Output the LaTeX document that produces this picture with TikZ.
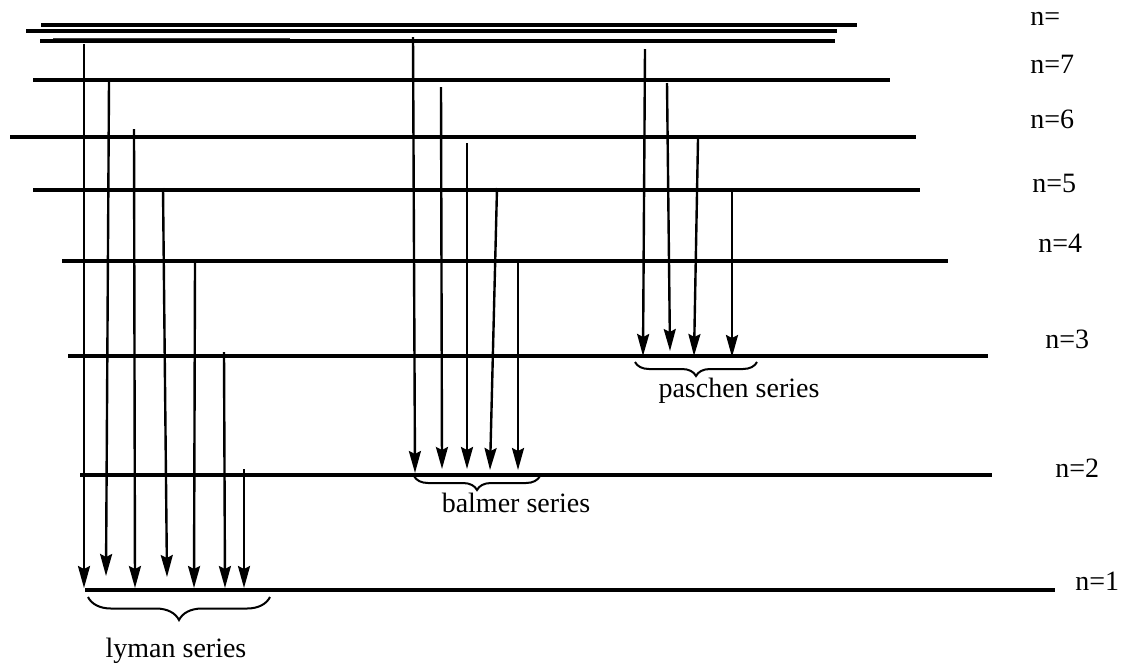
\documentclass[tikz,border=0pt]{standalone}
\usepackage{fontspec}
\setmainfont{Liberation Serif}
\usetikzlibrary{arrows.meta,decorations.pathreplacing}
\tikzset{
  level/.style={line width=1.6pt},
  trans/.style={line width=1.2pt,-{Stealth[length=11pt,width=6pt,inset=1.5pt]}},
  lab/.style={anchor=base west,inner sep=0pt,font=\fontsize{14}{16}\selectfont},
  serieslab/.style={anchor=base,inner sep=0pt,font=\fontsize{14}{16}\selectfont},
  bracestyle/.style={line width=1pt,decorate,decoration={brace,mirror,amplitude=#1}}
}
\begin{document}
\begin{tikzpicture}[x=0.5pt,y=-0.5pt]
\useasboundingbox (0,0) rectangle (1127,670);
% top (n = infinity) lines
\draw[level] (41,25) -- (857,25);
\draw[level] (26,31) -- (837,31);
\draw[line width=0.6pt,black!75] (53,38.3) -- (290,38.3);
\draw[level] (40,41) -- (835,41);
% levels
\draw[level] (33,80) -- (890,80);
\draw[level] (10,137) -- (916,137);
\draw[level] (33,190) -- (920,190);
\draw[level] (62,261) -- (948,261);
\draw[level] (68,356) -- (988,356);
\draw[level] (80,475) -- (992,475);
\draw[level] (85,590) -- (1055,590);
% labels
\node[lab] (ninf) at (1030,25) {n=};
\node[lab] (n7) at (1030,73) {n=7};
\node[lab] (n6) at (1030,128) {n=6};
\node[lab] (n5) at (1032,192) {n=5};
\node[lab] (n4) at (1038,252) {n=4};
\node[lab] (n3) at (1045,348) {n=3};
\node[lab] (n2) at (1055,477) {n=2};
\node[lab] (n1) at (1075,590) {n=1};
% Lyman
\draw[trans] (84,44) -- (84,588);
\draw[trans] (109,82) -- (106,576);
\draw[trans] (134,129) -- (135,588);
\draw[trans] (163,188) -- (167,577);
\draw[trans] (195,263) -- (194,588);
\draw[trans] (224,352) -- (225,588);
\draw[trans] (244,469) -- (244,588);
% Balmer
\draw[trans] (413,37) -- (415,473);
\draw[trans] (441,87) -- (442,469);
\draw[trans] (467,143) -- (467,469);
\draw[trans] (497,188) -- (490,470);
\draw[trans] (518,263) -- (518,470);
% Paschen
\draw[trans] (645,49) -- (643,356);
\draw[trans] (667,83) -- (670,351);
\draw[trans] (698,139) -- (694,356);
\draw[trans] (732,190) -- (732,357);
% braces
\draw[bracestyle=11.5pt] (88,597) -- (270,597);
\draw[bracestyle=7pt] (414,476) -- (540,476);
\draw[bracestyle=7pt] (635,362) -- (757,362);
\node[serieslab] (lyman) at (176,657) {lyman series};
\node[serieslab] (balmer) at (516,512) {balmer series};
\node[serieslab] (paschen) at (739,397) {paschen series};
\end{tikzpicture}
\end{document}
